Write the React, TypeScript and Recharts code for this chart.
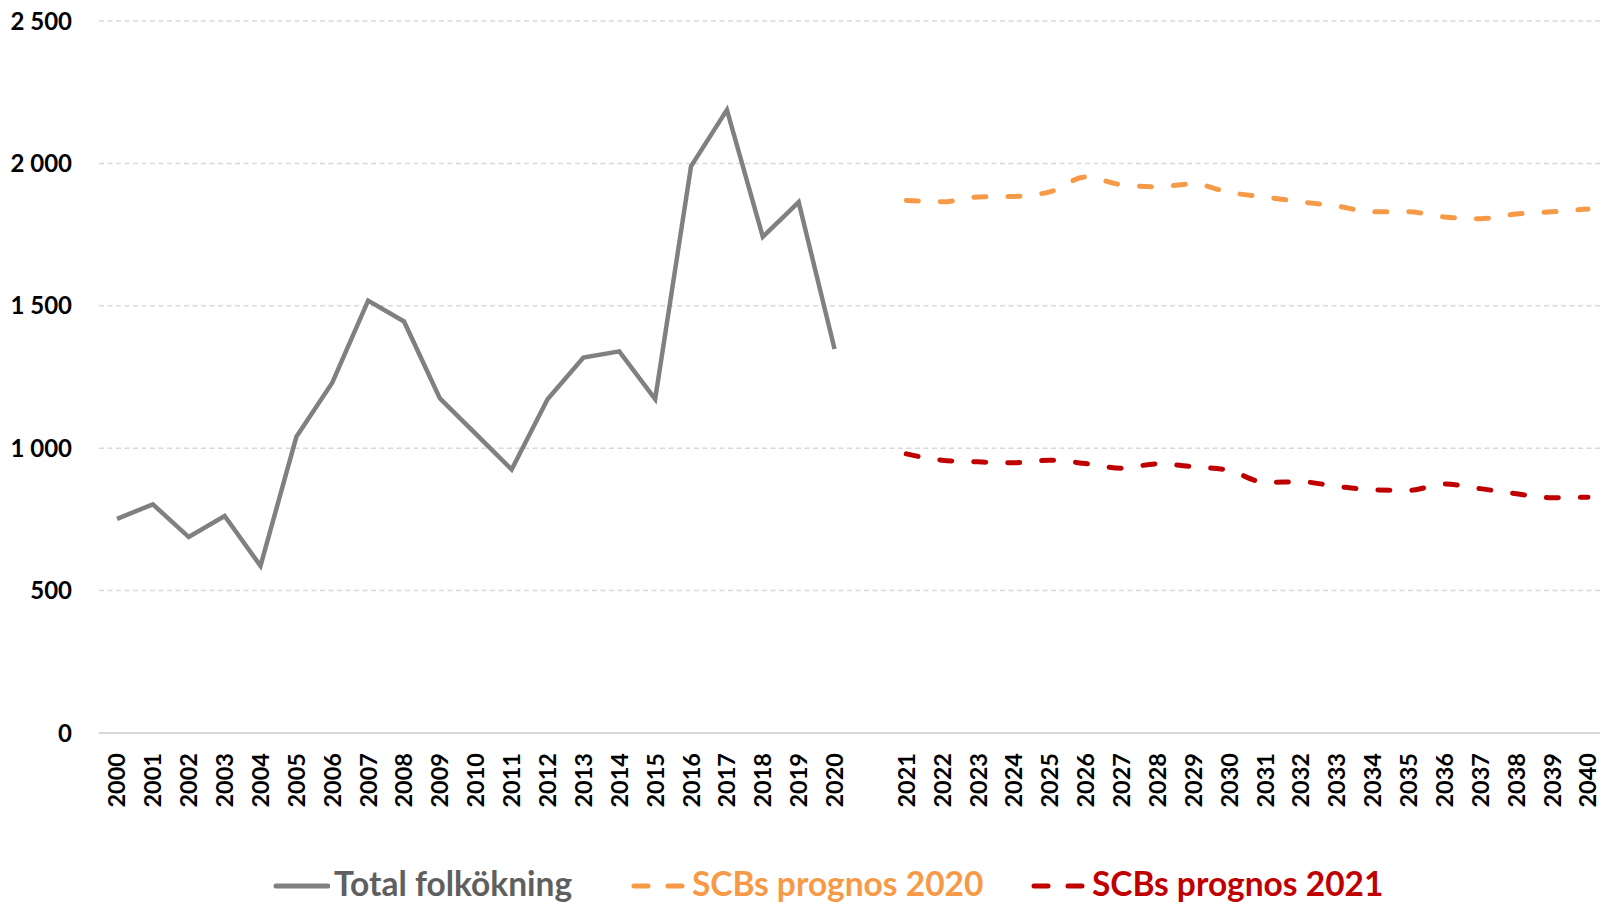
import {
  CartesianGrid,
  Legend,
  Line,
  LineChart,
  XAxis,
  YAxis,
} from "recharts";

const histYears = [
  "2000", "2001", "2002", "2003", "2004", "2005", "2006", "2007", "2008", "2009", "2010",
  "2011", "2012", "2013", "2014", "2015", "2016", "2017", "2018", "2019", "2020",
];
const forecastYears = [
  "2021", "2022", "2023", "2024", "2025", "2026", "2027", "2028", "2029", "2030",
  "2031", "2032", "2033", "2034", "2035", "2036", "2037", "2038", "2039", "2040",
];

const totalGrowth = [
  752, 803, 688, 762, 587, 1040, 1230, 1518, 1445, 1175, 1050,
  925, 1172, 1318, 1340, 1172, 1990, 2188, 1742, 1864, 1348,
];
const prognos2020 = [
  1870, 1865, 1882, 1884, 1900, 1952, 1925, 1918, 1928, 1898,
  1882, 1865, 1850, 1830, 1830, 1812, 1806, 1822, 1830, 1840,
];
const prognos2021 = [
  980, 958, 952, 949, 958, 946, 930, 945, 935, 922,
  880, 882, 866, 854, 852, 874, 858, 840, 826, 828,
];

const yTicks = [0, 500, 1000, 1500, 2000, 2500];

const GRAY = "#808080";
const ORANGE = "#f79a48";
const RED = "#c00000";
const DASH = "12 22";

type Row = { year: string; total?: number; p2020?: number; p2021?: number };

const data: Row[] = [
  ...histYears.map((year, i) => ({ year, total: totalGrowth[i] })),
  { year: "" },
  ...forecastYears.map((year, i) => ({
    year,
    p2020: prognos2020[i],
    p2021: prognos2021[i],
  })),
];

const fmt = (v: number) =>
  v >= 1000 ? `${Math.floor(v / 1000)} ${String(v % 1000).padStart(3, "0")}` : `${v}`;

function YearTick(props: any) {
  const { x, y, payload } = props;
  if (!payload?.value) return null;
  const ay = y + 12;
  return (
    <text
      x={x}
      y={ay}
      transform={`rotate(-90 ${x} ${ay})`}
      textAnchor="end"
      dy="0.36em"
      fontSize={23.5}
      fontWeight={700}
      fill="#000"
    >
      {payload.value}
    </text>
  );
}

const legendItems = [
  { label: "Total folkökning", color: GRAY, text: "#5f5f5f", dashed: false, left: 272 },
  { label: "SCBs prognos 2020", color: ORANGE, text: ORANGE, dashed: true, left: 630 },
  { label: "SCBs prognos 2021", color: RED, text: RED, dashed: true, left: 1030 },
];

function LegendContent() {
  return (
    <div style={{ position: "relative", width: 1600, height: 40 }}>
      {legendItems.map((it) => (
        <div
          key={it.label}
          style={{
            position: "absolute",
            left: it.left,
            top: 0,
            height: 40,
            display: "flex",
            alignItems: "center",
            whiteSpace: "nowrap",
          }}
        >
          <svg width={58} height={40}>
            <line
              x1={4}
              x2={56}
              y1={23}
              y2={23}
              stroke={it.color}
              strokeWidth={5}
              strokeLinecap="round"
              strokeDasharray={it.dashed ? "14 20" : undefined}
            />
          </svg>
          <span
            style={{
              marginLeft: 4,
              color: it.text,
              fontSize: 33.5,
              fontWeight: 700,
              lineHeight: "40px",
            }}
          >
            {it.label}
          </span>
        </div>
      ))}
    </div>
  );
}

export default function App() {
  return (
    <div
      style={{
        position: "absolute",
        left: 0,
        top: 0,
        width: 1600,
        height: 903,
        background: "#fff",
        fontFamily: "Lato, 'Open Sans', sans-serif",
        overflow: "hidden",
      }}
    >
      <LineChart
        width={1600}
        height={903}
        data={data}
        margin={{ top: 21, right: 0, left: 0, bottom: 0 }}
      >
        <CartesianGrid
          vertical={false}
          stroke="#d9d9d9"
          strokeWidth={1.5}
          strokeDasharray="5 3.5"
        />
        <XAxis
          dataKey="year"
          interval={0}
          height={130}
          padding={{ left: 18, right: 12 }}
          axisLine={{ stroke: "#d9d9d9", strokeWidth: 2 }}
          tickLine={false}
          tick={<YearTick />}
        />
        <YAxis
          domain={[0, 2500]}
          ticks={yTicks}
          width={99}
          axisLine={false}
          tickLine={false}
          tickSize={0}
          tickMargin={27}
          tickFormatter={fmt}
          tick={{ fill: "#000", fontSize: 24, fontWeight: 700 }}
        />
        <Legend
          verticalAlign="bottom"
          wrapperStyle={{ left: 0, width: 1600 }}
          content={() => <LegendContent />}
        />
        <Line
          dataKey="total"
          name="Total folkökning"
          stroke={GRAY}
          strokeWidth={4.5}
          dot={false}
          activeDot={false}
          type="linear"
          isAnimationActive={false}
        />
        <Line
          dataKey="p2020"
          name="SCBs prognos 2020"
          stroke={ORANGE}
          strokeWidth={5}
          strokeDasharray={DASH}
          strokeLinecap="round"
          dot={false}
          activeDot={false}
          type="monotone"
          isAnimationActive={false}
        />
        <Line
          dataKey="p2021"
          name="SCBs prognos 2021"
          stroke={RED}
          strokeWidth={5}
          strokeDasharray={DASH}
          strokeLinecap="round"
          dot={false}
          activeDot={false}
          type="monotone"
          isAnimationActive={false}
        />
      </LineChart>
    </div>
  );
}
